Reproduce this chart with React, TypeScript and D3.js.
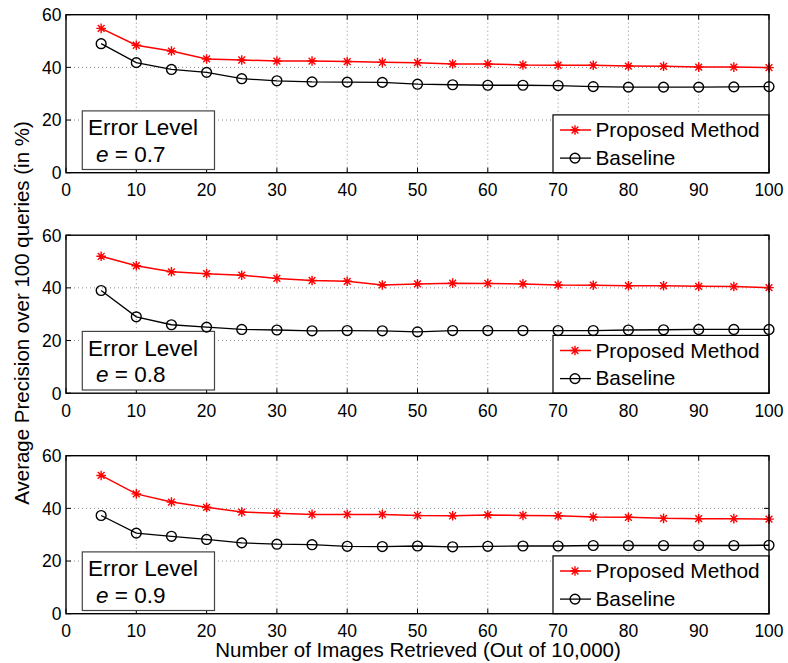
import React from "react";
import * as d3 from "d3";

const xValues = [5, 10, 15, 20, 25, 30, 35, 40, 45, 50, 55, 60, 65, 70, 75, 80, 85, 90, 95, 100];

const proposed07 = [54.8, 48.4, 46.2, 43.2, 42.8, 42.4, 42.4, 42.2, 41.9, 41.8, 41.3, 41.3, 40.9, 40.8, 40.8, 40.5, 40.4, 40.1, 40.1, 39.9];
const baseline07 = [49.0, 41.8, 39.2, 38.1, 35.7, 34.9, 34.5, 34.4, 34.3, 33.6, 33.4, 33.2, 33.2, 33.1, 32.7, 32.5, 32.5, 32.5, 32.6, 32.7];

const proposed08 = [52.0, 48.4, 46.1, 45.4, 44.8, 43.6, 42.8, 42.5, 41.1, 41.5, 41.8, 41.7, 41.5, 41.1, 41.0, 40.8, 40.8, 40.6, 40.5, 40.1];
const baseline08 = [39.0, 29.0, 26.0, 25.1, 24.2, 24.0, 23.7, 23.8, 23.7, 23.3, 23.8, 23.8, 23.8, 23.8, 23.8, 24.0, 24.1, 24.2, 24.2, 24.2];

const proposed09 = [52.5, 45.5, 42.4, 40.4, 38.6, 38.1, 37.7, 37.7, 37.7, 37.3, 37.2, 37.5, 37.3, 37.2, 36.7, 36.6, 36.2, 36.1, 36.1, 35.9];
const baseline09 = [37.3, 30.6, 29.4, 28.2, 26.9, 26.4, 26.2, 25.6, 25.5, 25.7, 25.4, 25.6, 25.7, 25.7, 25.9, 25.9, 25.9, 25.9, 25.9, 26.0];

const errorLevels = ["0.7", "0.8", "0.9"];
const seriesNames = ["Proposed Method", "Baseline"];
const xTicks = [0, 10, 20, 30, 40, 50, 60, 70, 80, 90, 100];
const yTicks = [0, 20, 40, 60];
const xTitle = "Number of Images Retrieved (Out of 10,000)";
const yTitle = "Average Precision over 100 queries (in %)";

const panels = [
  { level: errorLevels[0], proposed: proposed07, baseline: baseline07 },
  { level: errorLevels[1], proposed: proposed08, baseline: baseline08 },
  { level: errorLevels[2], proposed: proposed09, baseline: baseline09 },
];

const FONT = "'Liberation Sans', Arial, Helvetica, sans-serif";
const LEFT = 66;
const RIGHT = 769;
const TOPS = [14.7, 235.2, 455.7];
const PH = 158;

function Asterisk({ x, y, r = 4.8 }: { x: number; y: number; r?: number }) {
  const d = r * 0.7071;
  const p = `M${x - r},${y}L${x + r},${y}M${x},${y - r}L${x},${y + r}M${x - d},${y - d}L${x + d},${y + d}M${x - d},${y + d}L${x + d},${y - d}`;
  return <path d={p} stroke="#ff0000" strokeWidth={1.4} fill="none" />;
}

function Circle({ x, y }: { x: number; y: number }) {
  return <circle cx={x} cy={y} r={4.9} fill="none" stroke="#000" strokeWidth={1.4} />;
}

function Panel({ top, level, proposed, baseline }: { top: number; level: string; proposed: number[]; baseline: number[] }) {
  const bottom = top + PH;
  const x = d3.scaleLinear().domain([0, 100]).range([LEFT, RIGHT]);
  const y = d3.scaleLinear().domain([0, 60]).range([bottom, top]);
  const line = d3
    .line<number>()
    .x((_, i) => x(xValues[i]))
    .y((d) => y(d));

  const legW = 216;
  const legL = RIGHT - legW;
  const legT = bottom - 57.8;

  return (
    <g>
      {xTicks.slice(1, -1).map((t) => (
        <line key={"gx" + t} x1={x(t)} x2={x(t)} y1={top} y2={bottom} stroke="#8a8a8a" strokeWidth={1} strokeDasharray="1,3" />
      ))}
      {yTicks.slice(1, -1).map((t) => (
        <line key={"gy" + t} x1={LEFT} x2={RIGHT} y1={y(t)} y2={y(t)} stroke="#8a8a8a" strokeWidth={1} strokeDasharray="1,3" />
      ))}
      {xTicks.map((t) => (
        <g key={"tx" + t}>
          <line x1={x(t)} x2={x(t)} y1={bottom} y2={bottom - 5} stroke="#000" />
          <line x1={x(t)} x2={x(t)} y1={top} y2={top + 5} stroke="#000" />
        </g>
      ))}
      {yTicks.map((t) => (
        <g key={"ty" + t}>
          <line x1={LEFT} x2={LEFT + 5} y1={y(t)} y2={y(t)} stroke="#000" />
          <line x1={RIGHT} x2={RIGHT - 5} y1={y(t)} y2={y(t)} stroke="#000" />
        </g>
      ))}
      {xTicks.map((t) => (
        <text key={"lx" + t} x={x(t)} y={bottom + 23.5} textAnchor="middle" fontSize={17.5} fontFamily={FONT} fill="#000">
          {t}
        </text>
      ))}
      {yTicks.map((t) => (
        <text key={"ly" + t} x={LEFT - 4.5} y={y(t) + 6.3} textAnchor="end" fontSize={17.5} fontFamily={FONT} fill="#000">
          {t}
        </text>
      ))}
      <rect x={82.3} y={bottom - 61.8} width={132.2} height={58.6} fill="#fff" stroke="#444" strokeWidth={1.2} />
      <text x={88} y={bottom - 37.5} fontSize={22.5} fontFamily={FONT} fill="#000">
        Error Level
      </text>
      <text x={96} y={bottom - 10.8} fontSize={22.5} fontFamily={FONT} fill="#000">
        <tspan fontStyle="italic">e</tspan>
        <tspan> = {level}</tspan>
      </text>
      <rect x={legL} y={legT} width={legW} height={bottom - legT} fill="#fff" stroke="#000" strokeWidth={1.2} />
      <line x1={legL + 7} x2={legL + 38} y1={bottom - 42.7} y2={bottom - 42.7} stroke="#ff0000" strokeWidth={1.5} />
      <Asterisk x={legL + 22} y={bottom - 42.7} />
      <text x={legL + 42.5} y={bottom - 35.4} fontSize={20.8} fontFamily={FONT} fill="#000">
        {seriesNames[0]}
      </text>
      <line x1={legL + 7} x2={legL + 38} y1={bottom - 14.6} y2={bottom - 14.6} stroke="#000" strokeWidth={1.3} />
      <Circle x={legL + 22} y={bottom - 14.6} />
      <text x={legL + 42.5} y={bottom - 8} fontSize={20.8} fontFamily={FONT} fill="#000">
        {seriesNames[1]}
      </text>
      <path d={line(baseline) || ""} fill="none" stroke="#000" strokeWidth={1.3} />
      {baseline.map((v, i) => (
        <Circle key={"b" + i} x={x(xValues[i])} y={y(v)} />
      ))}
      <path d={line(proposed) || ""} fill="none" stroke="#ff0000" strokeWidth={1.5} />
      {proposed.map((v, i) => (
        <Asterisk key={"p" + i} x={x(xValues[i])} y={y(v)} />
      ))}
      <rect x={LEFT} y={top} width={RIGHT - LEFT} height={PH} fill="none" stroke="#000" strokeWidth={1.4} />
    </g>
  );
}

export default function App() {
  return (
    <svg width={788} height={663} style={{ position: "absolute", left: 0, top: 0, display: "block", background: "#fff" }}>
      <rect x={0} y={0} width={788} height={663} fill="#fff" />
      {panels.map((p, i) => (
        <Panel key={i} top={TOPS[i]} level={p.level} proposed={p.proposed} baseline={p.baseline} />
      ))}
      <text x={418} y={656.5} textAnchor="middle" fontSize={20.5} fontFamily={FONT} fill="#000">
        {xTitle}
      </text>
      <text transform="translate(28.5,313) rotate(-90)" textAnchor="middle" fontSize={20.5} fontFamily={FONT} fill="#000">
        {yTitle}
      </text>
    </svg>
  );
}
